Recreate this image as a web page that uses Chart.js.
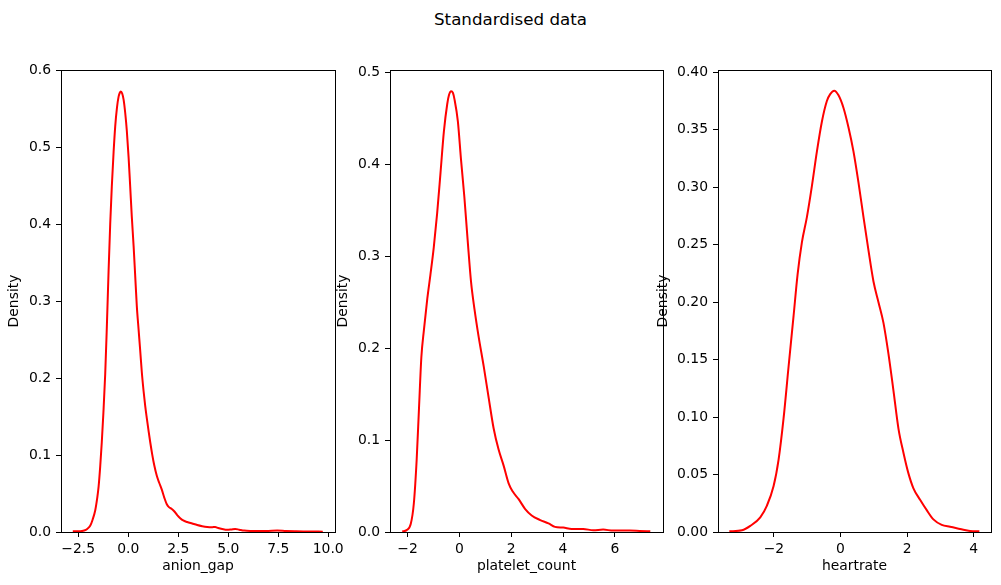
<!DOCTYPE html>
<html>
<head>
<meta charset="utf-8">
<script src="https://cdn.jsdelivr.net/npm/chart.js@4.4.1/dist/chart.umd.min.js"></script>
<style>
  html, body { margin: 0; padding: 0; background: #fff; }
  body { width: 1001px; height: 585px; position: relative; overflow: hidden; font-family: 'DejaVu Sans', sans-serif; }
  #title { position: absolute; left: 0; width: 1021px; top: 9px; line-height: 20px; text-align: center; font-size: 16.7px; color: #000; }
  canvas { position: absolute; top: 0; }
</style>
</head>
<body>
<div id="title">Standardised data</div>
<canvas id="c1" width="361" height="585" style="left:0px"></canvas>
<canvas id="c2" width="360" height="585" style="left:330px"></canvas>
<canvas id="c3" width="351" height="585" style="left:650px"></canvas>
<script>
// KDE curves
const anionX = [-2.77, -2.4, -2.2, -2.05, -1.9, -1.78, -1.65, -1.55, -1.48, -1.4, -1.32, -1.24, -1.15, -1.07, -0.98, -0.9, -0.82, -0.73, -0.65, -0.56, -0.48, -0.42, -0.37, -0.3, -0.23, -0.15, -0.07, 0.02, 0.1, 0.18, 0.27, 0.35, 0.43, 0.52, 0.6, 0.68, 0.77, 0.85, 0.93, 1.02, 1.1, 1.2, 1.3, 1.43, 1.55, 1.68, 1.8, 1.93, 2.05, 2.18, 2.3, 2.45, 2.6, 2.75, 2.95, 3.2, 3.45, 3.7, 3.95, 4.2, 4.35, 4.5, 4.7, 4.95, 5.15, 5.35, 5.55, 5.8, 6.2, 6.6, 7.0, 7.45, 7.9, 8.4, 9.0, 9.73];
const anionY = [0.001, 0.001, 0.002, 0.004, 0.008, 0.016, 0.028, 0.044, 0.059, 0.085, 0.117, 0.155, 0.205, 0.265, 0.34, 0.4, 0.449, 0.494, 0.527, 0.552, 0.566, 0.571, 0.5725, 0.57, 0.562, 0.545, 0.522, 0.487, 0.449, 0.41, 0.372, 0.333, 0.294, 0.263, 0.236, 0.208, 0.183, 0.164, 0.148, 0.131, 0.117, 0.101, 0.087, 0.073, 0.064, 0.055, 0.045, 0.036, 0.032, 0.03, 0.027, 0.022, 0.018, 0.015, 0.013, 0.011, 0.009, 0.0075, 0.0065, 0.0062, 0.0065, 0.0052, 0.004, 0.003, 0.0034, 0.004, 0.003, 0.0018, 0.0014, 0.0013, 0.0014, 0.0018, 0.0012, 0.0009, 0.0007, 0.0004];

const plateletX = [-2.21, -2.04, -1.88, -1.76, -1.65, -1.56, -1.47, -1.37, -1.24, -1.12, -0.99, -0.86, -0.73, -0.6, -0.47, -0.4, -0.32, -0.25, -0.19, -0.06, 0.06, 0.19, 0.32, 0.45, 0.58, 0.74, 0.94, 1.13, 1.32, 1.51, 1.71, 1.9, 2.06, 2.28, 2.54, 2.79, 3.12, 3.44, 3.69, 4.01, 4.33, 4.78, 5.17, 5.55, 5.94, 6.58, 6.96, 7.37];
const plateletY = [0.0007, 0.002, 0.0086, 0.031, 0.079, 0.135, 0.19, 0.22, 0.254, 0.28, 0.31, 0.347, 0.391, 0.436, 0.466, 0.476, 0.48, 0.478, 0.471, 0.447, 0.406, 0.365, 0.317, 0.272, 0.243, 0.213, 0.18, 0.146, 0.113, 0.09, 0.072, 0.053, 0.044, 0.036, 0.025, 0.018, 0.013, 0.0093, 0.0056, 0.0048, 0.0033, 0.0033, 0.0019, 0.0026, 0.0015, 0.0015, 0.0011, 0.0007];

const heartX = [-3.34, -2.96, -2.71, -2.41, -2.21, -2.01, -1.86, -1.71, -1.56, -1.41, -1.29, -1.16, -1.01, -0.86, -0.71, -0.56, -0.41, -0.31, -0.19, -0.06, 0.09, 0.24, 0.39, 0.54, 0.69, 0.84, 0.99, 1.14, 1.29, 1.44, 1.59, 1.74, 1.89, 2.04, 2.19, 2.39, 2.59, 2.79, 3.04, 3.29, 3.59, 3.89, 4.17];
const heartY = [0.0006, 0.0015, 0.0053, 0.0128, 0.023, 0.04, 0.063, 0.099, 0.144, 0.188, 0.224, 0.252, 0.274, 0.301, 0.331, 0.357, 0.375, 0.381, 0.384, 0.38, 0.369, 0.352, 0.331, 0.304, 0.274, 0.245, 0.218, 0.2, 0.182, 0.155, 0.123, 0.09, 0.069, 0.051, 0.038, 0.028, 0.019, 0.011, 0.0062, 0.0045, 0.0027, 0.0009, 0.0006];

// tick values and their labels
const anionXTicks = [-2.5, 0, 2.5, 5, 7.5, 10];
const anionXLabels = ['\u22122.5', '0.0', '2.5', '5.0', '7.5', '10.0'];
const anionYTicks = [0, 0.1, 0.2, 0.3, 0.4, 0.5, 0.6];
const anionYLabels = ['0.0', '0.1', '0.2', '0.3', '0.4', '0.5', '0.6'];

const plateletXTicks = [-2, 0, 2, 4, 6];
const plateletXLabels = ['\u22122', '0', '2', '4', '6'];
const plateletYTicks = [0, 0.1, 0.2, 0.3, 0.4, 0.5];
const plateletYLabels = ['0.0', '0.1', '0.2', '0.3', '0.4', '0.5'];

const heartXTicks = [-2, 0, 2, 4];
const heartXLabels = ['\u22122', '0', '2', '4'];
const heartYTicks = [0, 0.05, 0.1, 0.15, 0.2, 0.25, 0.3, 0.35, 0.4];
const heartYLabels = ['0.00', '0.05', '0.10', '0.15', '0.20', '0.25', '0.30', '0.35', '0.40'];

Chart.defaults.font.family = "'DejaVu Sans', sans-serif";
Chart.defaults.font.size = 13.9;
Chart.defaults.color = '#000';

// draws the four spines around the plot area
const frame = {
  id: 'frame',
  afterDatasetsDraw(chart) {
    const { ctx, chartArea: a } = chart;
    ctx.save();
    ctx.strokeStyle = '#000';
    ctx.lineWidth = 1;
    ctx.strokeRect(Math.round(a.left) + 0.5, Math.round(a.top) + 0.5,
      Math.round(a.right - a.left), Math.round(a.bottom - a.top));
    ctx.restore();
  }
};

const tickGrid = { display: true, drawOnChartArea: false, drawTicks: true, tickLength: 5, color: '#000', lineWidth: 1 };

function makePanel(id, p) {
  const canvas = document.getElementById(id);
  const yWidth = p.boxLeft - p.canvasLeft;
  const xHeight = canvas.height - p.boxBottom;
  const padRight = p.canvasLeft + canvas.width - p.boxRight;

  return new Chart(canvas, {
    type: 'line',
    data: {
      datasets: [{
        data: p.xs.map((x, i) => ({ x: x, y: p.ys[i] })),
        borderColor: '#ff0000',
        borderWidth: 2,
        pointRadius: 0,
        fill: false,
        cubicInterpolationMode: 'monotone'
      }]
    },
    options: {
      responsive: false,
      animation: false,
      events: [],
      layout: { padding: { top: p.boxTop, bottom: 0, left: 0, right: padRight } },
      plugins: { legend: { display: false }, tooltip: { enabled: false } },
      scales: {
        x: {
          type: 'linear',
          position: 'bottom',
          min: p.xMin,
          max: p.xMax,
          grid: tickGrid,
          border: { display: false },
          ticks: { padding: 4, maxRotation: 0, autoSkip: false, callback: (v, i) => p.xLabels[i] },
          title: { display: true, text: p.xTitle, padding: { top: 0, bottom: 10 } },
          afterBuildTicks: s => { s.ticks = p.xTicks.map(v => ({ value: v })); },
          afterFit: s => { s.height = xHeight; }
        },
        y: {
          type: 'linear',
          position: 'left',
          min: 0,
          max: p.yMax,
          grid: tickGrid,
          border: { display: false },
          ticks: { padding: 5, autoSkip: false, callback: (v, i) => p.yLabels[i] },
          title: { display: true, text: 'Density', padding: { top: p.yTitlePad, bottom: 0 } },
          afterBuildTicks: s => { s.ticks = p.yTicks.map(v => ({ value: v })); },
          afterFit: s => { s.width = yWidth; }
        }
      }
    },
    plugins: [frame]
  });
}

makePanel('c1', {
  canvasLeft: 0, boxLeft: 61, boxRight: 335, boxTop: 70, boxBottom: 532,
  xs: anionX, ys: anionY, xMin: -3.36, xMax: 10.34, yMax: 0.6006,
  xTicks: anionXTicks, xLabels: anionXLabels, yTicks: anionYTicks, yLabels: anionYLabels,
  xTitle: 'anion_gap', yTitlePad: 6.2
});

makePanel('c2', {
  canvasLeft: 330, boxLeft: 390, boxRight: 663, boxTop: 70, boxBottom: 532,
  xs: plateletX, ys: plateletY, xMin: -2.68, xMax: 7.86, yMax: 0.503,
  xTicks: plateletXTicks, xLabels: plateletXLabels, yTicks: plateletYTicks, yLabels: plateletYLabels,
  xTitle: 'platelet_count', yTitlePad: 5.2
});

makePanel('c3', {
  canvasLeft: 650, boxLeft: 718, boxRight: 991, boxTop: 70, boxBottom: 532,
  xs: heartX, ys: heartY, xMin: -3.68, xMax: 4.52, yMax: 0.402,
  xTicks: heartXTicks, xLabels: heartXLabels, yTicks: heartYTicks, yLabels: heartYLabels,
  xTitle: 'heartrate', yTitlePad: 5
});
</script>
</body>
</html>
